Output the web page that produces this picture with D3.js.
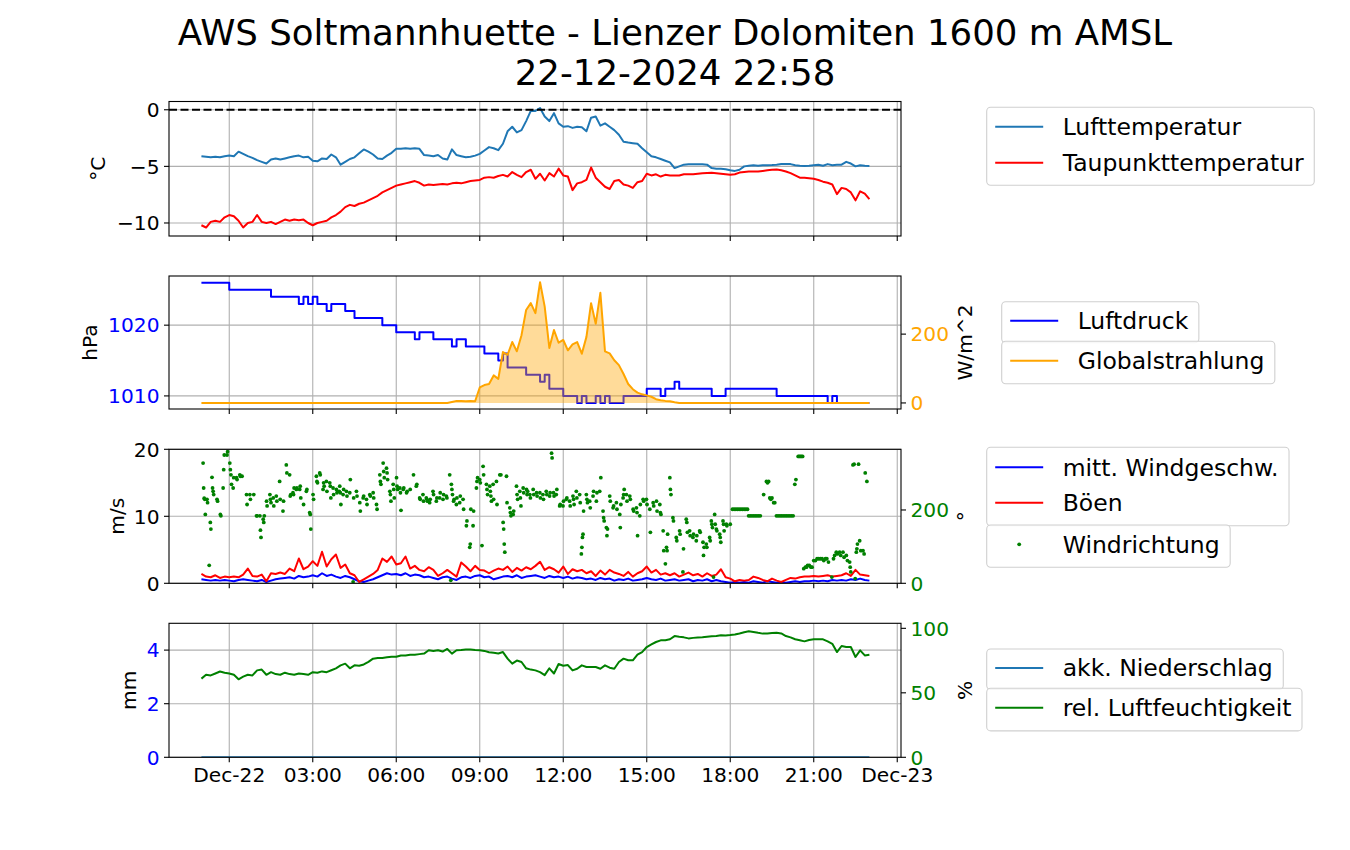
<!DOCTYPE html>
<html><head><meta charset="utf-8">
<script src="https://cdn.jsdelivr.net/npm/d3@7"></script>
<style>
body{margin:0;background:#fff;}
svg{font-family:"DejaVu Sans",sans-serif;}
</style></head><body>
<svg id="chart" width="1350" height="850"></svg>
<script>
// ---------------- DATA ----------------
const titleLines = ["AWS Soltmannhuette - Lienzer Dolomiten 1600 m AMSL", "22-12-2024 22:58"];
// 10-minute readings, first at 21-12-2024 23:00 (hour -1 relative to 22-12 00:00)
const startHour = -1;
const stepHours = 1 / 6;

const airTemp = [
 -4.1,-4.15,-4.2,-4.15,-4.2,-4.1,
 -4.05,-4.1,-3.7,-3.9,-4.1,-4.25,
 -4.45,-4.6,-4.75,-4.4,-4.3,-4.4,
 -4.3,-4.2,-4.1,-4.05,-4.2,-4.15,
 -4.5,-4.55,-4.3,-4.35,-3.95,-4.2,
 -4.85,-4.6,-4.35,-4.2,-3.85,-3.5,
 -3.7,-3.95,-4.3,-4.35,-4.05,-3.8,
 -3.45,-3.45,-3.4,-3.45,-3.4,-3.45,
 -4.0,-4.05,-4.1,-4.0,-4.3,-4.4,
 -3.5,-4.0,-4.1,-4.2,-4.15,-4.05,
 -3.9,-3.6,-3.3,-3.4,-3.57,-3.0,
 -1.9,-1.5,-2.0,-1.8,-1.0,-0.1,
 -0.1,0.15,-0.6,-1.0,-0.3,-1.2,
 -1.5,-1.45,-1.6,-1.5,-1.55,-1.9,
 -0.7,-0.6,-1.4,-1.2,-1.5,-1.8,
 -2.2,-2.83,-2.9,-2.95,-3.0,-3.4,
 -3.75,-4.1,-4.2,-4.35,-4.5,-4.65,
 -5.15,-5.0,-4.85,-4.82,-4.82,-4.82,
 -4.82,-4.85,-5.15,-5.2,-5.2,-5.25,
 -5.35,-5.4,-5.3,-5.0,-4.95,-4.9,
 -4.95,-4.9,-4.9,-4.88,-4.85,-4.8,
 -4.78,-4.8,-4.9,-4.95,-4.97,-4.95,
 -4.9,-4.85,-4.95,-4.8,-4.9,-4.85,
 -4.85,-4.6,-4.75,-5.0,-4.9,-4.95,
 -4.97
];
const dewPoint = [
 -10.2,-10.4,-9.9,-9.8,-9.9,-9.5,
 -9.3,-9.4,-9.8,-10.4,-10.0,-9.9,
 -9.3,-9.9,-10.0,-9.9,-10.1,-9.9,
 -9.7,-9.8,-9.7,-9.75,-9.7,-10.0,
 -10.2,-10.0,-9.9,-9.8,-9.5,-9.3,
 -9.0,-8.6,-8.4,-8.5,-8.3,-8.2,
 -8.0,-7.8,-7.6,-7.3,-7.1,-6.9,
 -6.7,-6.6,-6.5,-6.4,-6.3,-6.45,
 -6.7,-6.6,-6.65,-6.6,-6.55,-6.6,
 -6.5,-6.45,-6.5,-6.4,-6.3,-6.25,
 -6.2,-6.0,-5.95,-6.0,-5.85,-5.75,
 -5.9,-5.5,-5.75,-5.95,-5.5,-5.3,
 -6.1,-5.65,-6.25,-5.6,-5.9,-5.2,
 -5.8,-5.9,-7.1,-6.5,-6.4,-6.2,
 -5.1,-6.0,-6.4,-6.8,-7.0,-6.3,
 -6.2,-6.6,-6.7,-6.9,-6.4,-6.3,
 -5.65,-5.8,-5.7,-5.9,-5.75,-5.8,
 -5.8,-5.8,-5.7,-5.7,-5.7,-5.65,
 -5.6,-5.58,-5.57,-5.6,-5.65,-5.7,
 -5.75,-5.7,-5.55,-5.5,-5.45,-5.45,
 -5.45,-5.4,-5.35,-5.3,-5.28,-5.35,
 -5.45,-5.6,-5.8,-6.0,-6.0,-6.05,
 -6.1,-6.2,-6.35,-6.45,-6.6,-7.45,
 -6.9,-7.0,-7.3,-8.0,-7.2,-7.4,
 -7.9
];
const pressure = [
 1026,1026,1026,1026,1026,1026,
 1025,1025,1025,1025,1025,1025,
 1025,1025,1025,1024,1024,1024,
 1024,1024,1024,1023,1024,1023,
 1024,1023,1023,1022,1023,1023,
 1023,1022,1022,1021,1021,1021,
 1021,1021,1021,1020,1020,1020,
 1019,1019,1019,1019,1018,1019,
 1019,1019,1018,1018,1018,1018,
 1017,1018,1018,1017,1017,1017,
 1017,1016,1016,1016,1015,1016,
 1014,1014,1014,1014,1013,1013,
 1013,1012,1013,1011,1011,1011,
 1010,1010,1010,1009,1010,1009,
 1009,1010,1009,1010,1009,1009,
 1009,1010,1010,1010,1010,1010,
 1011,1011,1011,1010,1011,1011,
 1012,1011,1011,1011,1011,1011,
 1011,1011,1010,1010,1010,1011,
 1011,1011,1011,1011,1011,1011,
 1011,1011,1011,1011,1010,1010,
 1010,1010,1010,1010,1010,1010,
 1010,1010,1010,1009,1010,1009,
 1009,1009,1009,1009,1009,1009,
 1009
];
const globalRadiation = [
 0,0,0,0,0,0, 0,0,0,0,0,0, 0,0,0,0,0,0, 0,0,0,0,0,0,
 0,0,0,0,0,0, 0,0,0,0,0,0, 0,0,0,0,0,0, 0,0,0,0,0,0,
 0,0,0,0,0,0,
 3,6,6,5,6,5,
 45,52,55,80,70,148,
 140,177,150,197,270,290,
 261,351,280,160,212,175,
 183,153,170,177,143,192,
 290,230,320,150,144,124,
 110,84,55,40,30,25,
 22,18,11,8,6,5,
 2,0,0,0,0,0,
 0,0,0,0,0,0, 0,0,0,0,0,0, 0,0,0,0,0,0,
 0,0,0,0,0,0, 0,0,0,0,0,0, 0,0,0,0,0,0,
 0
];
const windMean = [
 0.6,0.5,0.4,0.5,0.4,0.5,
 0.4,0.3,0.5,0.6,0.5,0.4,
 0.3,0.5,0.2,0.4,0.6,0.7,
 0.8,0.9,0.7,1.1,0.9,1.0,
 1.2,1.0,1.5,1.1,1.3,1.0,
 0.8,1.1,0.9,0.6,0.3,0.2,
 0.4,0.6,0.9,1.2,1.5,1.3,
 1.4,1.2,1.5,1.1,1.3,1.2,
 0.9,1.0,0.8,0.6,0.9,1.0,
 0.7,0.5,0.9,1.0,0.8,1.1,
 1.2,0.9,1.0,0.6,0.8,1.0,
 1.1,0.9,1.2,0.8,1.0,1.1,
 1.2,1.0,0.8,1.1,0.9,1.0,
 0.8,1.0,0.7,0.9,0.8,0.6,
 0.7,0.5,0.8,0.6,0.7,0.4,
 0.6,0.5,0.7,0.4,0.5,0.6,
 0.8,0.6,0.5,0.7,0.4,0.5,
 0.6,0.4,0.5,0.6,0.3,0.5,
 0.4,0.6,0.3,0.5,0.3,0.2,
 0.1,0.2,0.1,0.2,0.1,0.3,
 0.2,0.1,0.3,0.2,0.1,0.2,
 0.1,0.2,0.3,0.2,0.3,0.3,
 0.4,0.3,0.4,0.3,0.5,0.4,
 0.5,0.4,0.6,0.5,0.7,0.5,
 0.4
];
const windGust = [
 1.4,1.0,0.9,1.2,0.8,1.0,
 0.9,1.0,0.9,1.3,2.2,1.1,
 1.0,1.3,0.3,1.5,1.4,1.6,
 1.4,2.2,1.8,3.7,2.1,2.5,
 3.3,2.6,4.7,2.5,3.6,4.3,
 2.3,2.8,1.5,1.2,0.2,0.6,
 1.0,1.4,2.0,3.7,3.2,4.0,
 2.8,3.0,4.0,2.2,2.6,2.0,
 1.8,2.4,2.0,1.1,1.5,2.0,
 1.5,1.0,3.1,2.5,1.8,2.6,
 2.0,1.9,1.5,1.9,2.2,2.0,
 2.5,1.7,2.3,1.9,2.4,2.1,
 2.6,3.2,2.0,2.4,2.1,1.6,
 2.5,1.4,2.1,1.8,2.0,1.5,
 1.8,1.1,1.9,1.3,2.0,1.6,
 1.4,1.1,1.7,1.0,1.5,1.8,
 2.5,1.6,2.0,1.3,1.5,1.2,
 1.5,1.0,1.3,1.6,1.2,1.4,
 1.0,1.5,1.1,1.3,2.1,0.9,
 0.7,0.3,0.5,0.4,0.5,1.0,
 0.8,0.5,0.3,0.7,0.4,0.2,
 0.5,0.8,0.7,0.9,1.0,1.0,
 1.1,1.0,1.1,1.2,1.0,1.1,
 1.2,1.5,1.1,2.0,1.3,1.2,
 1.1
];
// wind direction readings: [hour relative to 22-12 00:00, degrees]
const windDirection = [
 [-0.94,328],[-0.92,260],[-0.90,232],[-0.88,229],[-0.86,188],[-0.80,229],[-0.78,220],[-0.72,49],
 [-0.68,166],[-0.66,148],[-0.62,289],[-0.60,260],[-0.58,251],[-0.56,242],[-0.44,229],[-0.42,224],
 [-0.32,188],[-0.30,184],[-0.22,260],[-0.20,310],[-0.18,350],[-0.08,350],[-0.06,359],
 [0.02,328],[0.04,310],[0.06,296],[0.08,270],[0.14,260],[0.16,288],[0.26,288],[0.28,283],
 [0.38,296],[0.40,292],[0.46,292],[0.62,242],[0.64,215],[0.74,242],[0.76,229],[0.88,242],
 [0.98,184],[1.00,184],[1.10,184],[1.12,145],[1.14,125],[1.22,175],[1.24,166],[1.26,184],
 [1.34,224],[1.36,211],[1.46,242],[1.48,229],[1.50,220],[1.58,233],[1.60,211],[1.69,238],[1.71,224],
 [1.81,278],[1.83,229],[1.93,197],[1.95,224],[2.05,323],[2.07,301],[2.17,296],[2.19,238],[2.21,242],
 [2.29,247],[2.31,242],[2.33,260],[2.41,256],[2.43,260],[2.53,256],[2.55,265],[2.57,233],[2.67,215],
 [2.77,251],[2.79,256],[2.89,193],[2.91,188],[2.93,148],[3.01,242],[3.03,229],[3.13,292],[3.15,278],[3.17,274],
 [3.25,301],[3.27,296],[3.37,256],[3.39,274],[3.41,265],[3.49,278],[3.51,251],[3.61,274],[3.63,265],[3.65,233],
 [3.73,260],[3.75,242],[3.85,256],[3.87,247],[3.95,251],[3.97,265],[3.99,247],[4.01,215],[4.09,242],[4.11,256],
 [4.21,251],[4.23,238],[4.33,247],[4.35,283],[4.45,4],[4.47,233],[4.57,251],[4.59,238],[4.69,220],[4.71,197],
 [4.81,233],[4.83,238],[4.93,229],[4.95,215],[5.05,242],[5.07,238],[5.17,247],[5.19,233],[5.29,215],[5.31,202],
 [5.41,296],[5.43,278],[5.45,270],[5.53,328],[5.55,305],[5.57,288],[5.65,314],[5.67,301],[5.69,283],
 [5.77,251],[5.79,242],[5.81,224],[5.89,270],[5.91,256],[5.93,233],[6.01,288],[6.03,265],[6.05,256],
 [6.13,260],[6.15,247],[6.17,199],[6.25,256],[6.27,260],[6.37,247],[6.39,251],[6.50,256],[6.62,296],
 [6.72,265],[6.74,270],[6.84,233],[6.86,229],[6.96,242],[6.98,224],[7.08,233],[7.10,229],[7.12,224],
 [7.20,220],[7.22,229],[7.32,251],[7.34,242],[7.44,224],[7.46,233],[7.56,233],[7.58,247],[7.68,229],[7.70,242],
 [7.80,238],[7.82,233],[7.92,296],[7.96,8],[7.98,270],[8.00,256],[8.02,242],[8.06,224],[8.08,229],
 [8.16,215],[8.18,233],[8.28,220],[8.30,238],[8.40,229],[8.42,202],[8.52,157],[8.54,170],
 [8.64,98],[8.66,107],[8.68,202],[8.76,157],[8.78,197],[8.88,260],[8.90,278],[8.92,288],[9.00,283],[9.02,274],
 [9.08,103],[9.12,319],[9.14,296],[9.24,270],[9.26,256],[9.28,242],[9.36,265],[9.38,251],[9.40,238],[9.42,224],
 [9.48,270],[9.50,229],[9.60,278],[9.62,215],[9.72,296],[9.76,296],[9.84,166],[9.86,148],[9.88,107],[9.90,85],
 [9.96,292],[9.98,220],[10.08,206],[10.10,193],[10.12,184],[10.20,188],[10.22,197],[10.32,265],[10.34,242],[10.36,229],
 [10.44,251],[10.46,233],[10.48,211],[10.56,260],[10.58,247],[10.68,256],[10.70,242],[10.72,251],[10.80,242],[10.82,233],
 [10.92,256],[10.94,242],[11.04,247],[11.06,238],[11.16,247],[11.18,233],[11.27,242],[11.29,229],[11.39,251],[11.41,242],
 [11.51,238],[11.53,247],[11.58,355],[11.60,342],[11.65,247],[11.67,238],[11.75,242],[11.77,256],[11.87,211],[11.89,215],
 [11.99,211],[12.01,224],[12.11,229],[12.13,233],[12.23,224],[12.25,211],[12.35,238],[12.37,229],[12.39,215],
 [12.47,251],[12.49,233],[12.59,242],[12.61,220],[12.65,80],[12.67,98],[12.69,125],[12.71,134],[12.73,197],
 [12.83,242],[12.85,229],[12.87,220],[12.95,224],[12.97,206],[13.07,238],[13.09,251],[13.19,224],[13.21,247],
 [13.31,251],[13.35,288],[13.43,197],[13.45,179],[13.47,170],[13.55,152],[13.57,130],[13.59,148],[13.67,238],[13.69,224],
 [13.79,206],[13.81,211],[13.91,220],[13.93,202],[14.03,188],[14.05,152],[14.07,215],[14.15,233],[14.17,242],[14.19,256],
 [14.27,242],[14.29,224],[14.39,238],[14.41,229],[14.51,202],[14.53,197],[14.63,206],[14.65,193],[14.67,130],
 [14.75,184],[14.77,215],[14.87,229],[14.89,224],[14.99,229],[15.01,215],[15.11,202],[15.13,139],[15.23,220],[15.25,211],
 [15.35,224],[15.37,197],[15.47,215],[15.49,193],[15.51,188],[15.59,143],[15.61,89],[15.67,53],[15.71,98],[15.73,89],[15.75,134],
 [15.83,288],[15.85,256],[15.87,242],[15.94,179],[15.96,170],[16.06,125],[16.08,116],[16.18,143],[16.20,134],
 [16.30,31],[16.32,94],[16.42,175],[16.44,166],[16.46,139],[16.54,143],[16.56,130],[16.66,125],[16.68,134],
 [16.78,116],[16.80,130],[16.90,143],[16.92,139],[17.02,112],[17.04,76],[17.06,98],[17.14,107],[17.16,98],
 [17.26,125],[17.28,116],[17.32,170],[17.34,161],[17.36,152],[17.40,17],[17.44,188],[17.46,161],[17.50,148],[17.52,143],
 [17.62,134],[17.64,125],[17.66,112],[17.74,170],[17.76,161],[17.78,143],[17.86,161],[17.88,157],[18.00,161],
 [18.08,202],[18.14,202],[18.20,202],[18.26,202],[18.32,202],[18.38,202],[18.44,202],[18.50,202],[18.56,202],[18.62,202],
 [18.66,184],[18.72,184],[18.78,184],[18.84,184],[18.90,184],[18.96,184],[19.02,184],[19.08,184],
 [19.20,242],[19.30,278],[19.34,274],[19.38,278],[19.42,233],[19.46,229],[19.50,233],[19.56,220],[19.60,220],
 [19.66,184],[19.72,184],[19.78,184],[19.84,184],[19.90,184],[19.96,184],[20.02,184],[20.08,184],[20.14,184],[20.20,184],[20.26,184],
 [20.32,270],[20.36,283],[20.44,346],[20.48,346],[20.52,346],[20.56,346],[20.60,346],
 [20.64,40],[20.70,44],[20.74,44],[20.78,49],[20.84,49],[20.90,44],[20.94,44],
 [21.00,62],[21.06,62],[21.12,67],[21.18,67],[21.24,67],[21.30,67],[21.36,62],[21.42,67],[21.47,67],
 [21.53,58],[21.65,17],[21.71,67],[21.75,76],[21.81,85],[21.85,80],[21.93,85],[21.97,76],[22.05,85],[22.09,71],
 [22.17,76],[22.21,62],[22.29,58],[22.31,44],[22.33,31],[22.41,323],[22.45,325],[22.49,13],
 [22.53,85],[22.55,94],[22.57,107],[22.61,325],[22.65,116],[22.69,89],[22.77,89],[22.81,80],[22.85,301],[22.91,278]
];
const precipAccum = [
 0,0,0,0,0,0,0,0,0,0,0,0, 0,0,0,0,0,0,0,0,0,0,0,0,
 0,0,0,0,0,0,0,0,0,0,0,0, 0,0,0,0,0,0,0,0,0,0,0,0,
 0,0,0,0,0,0,0,0,0,0,0,0, 0,0,0,0,0,0,0,0,0,0,0,0,
 0,0,0,0,0,0,0,0,0,0,0,0, 0,0,0,0,0,0,0,0,0,0,0,0,
 0,0,0,0,0,0,0,0,0,0,0,0, 0,0,0,0,0,0,0,0,0,0,0,0,
 0,0,0,0,0,0,0,0,0,0,0,0, 0,0,0,0,0,0,0,0,0,0,0,0,
 0
];
const humidity = [
 61,64,63.5,65,66.5,65.5,
 65,64,60.5,62.5,64,63.5,
 67.4,68,64,66,64.5,64,
 65.6,64.5,64,65,64.5,64,
 66,65.5,66.6,66,67.5,69,
 71.3,72.6,69,71.3,71,72,
 74,76.5,77,77,77.5,78,
 78,79,79,79.5,79.6,80,
 80.4,83,82.5,83,82,84,
 80.4,83,83.2,83.5,83.5,83.2,
 83,82.5,81.5,81,80.5,81.6,
 76.5,72.6,75,73.9,69,68,
 67.4,66,63.7,69,65,72.3,
 71,71.5,67.4,68.7,71.3,70,
 70,70,68.7,71.3,69.5,68.7,
 73.9,76.5,75.2,75.2,79.6,81.6,
 85.5,87.5,89.4,90.7,90.7,91.5,
 94,93.4,93,92.2,92.6,92.8,
 93,93.4,93.8,94,94.6,94.5,
 94.8,95.2,96,97,97.7,97.2,
 96.5,95.9,96,96.3,96.6,96,
 94,93,91.5,90.7,89.9,91,
 91.5,91.5,91.5,89.9,88,81.6,
 86.3,85.5,85.5,77.8,82.9,79,
 79.6
];
const tempTicks = [-10, -5, 0];
const pressureTicks = [1010, 1020];
const radiationTicks = [0, 200];
const windTicks = [0, 10, 20];
const directionTicks = [0, 200];
const precipTicks = [0, 2, 4];
const humidityTicks = [0, 50, 100];

// ---------------- LAYOUT ----------------
const BASE = Date.UTC(2024, 11, 22);
const hoursToDate = h => new Date(BASE + h * 3600000);
const times = airTemp.map((_, i) => hoursToDate(startHour + i * stepHours));

const svg = d3.select("#chart");
const X0 = 169, X1 = 901;
const TICK_FONT = 20.2, LEG_FONT = 23.5, TITLE_FONT = 35.6;
const x = d3.scaleUtc().domain([hoursToDate(-2.165), hoursToDate(24.135)]).range([X0, X1]);
const xTicks = d3.utcHour.every(3).range(hoursToDate(-2.165), hoursToDate(24.2));
const fmtTick = d => d.getUTCHours() === 0 ? d3.utcFormat("%b-%d")(d) : d3.utcFormat("%H:%M")(d);
const fmtNum = v => (v < 0 ? "\u2212" + Math.abs(v) : String(v));

const panels = [
  {top: 101.5, bottom: 236},
  {top: 276, bottom: 409},
  {top: 449.3, bottom: 583.3},
  {top: 623.3, bottom: 757.3}
];

svg.append("rect").attr("width", 1350).attr("height", 850).attr("fill", "#fff");

// title
svg.append("text").attr("x", 675).attr("y", 45).attr("text-anchor", "middle")
  .attr("font-size", TITLE_FONT).text(titleLines[0]);
svg.append("text").attr("x", 675).attr("y", 85).attr("text-anchor", "middle")
  .attr("font-size", TITLE_FONT).text(titleLines[1]);

function makePanel(i, cfg) {
  const p = panels[i];
  const g = svg.append("g");
  const yL = d3.scaleLinear().domain(cfg.leftDomain).range([p.bottom, p.top]);
  const yR = cfg.rightDomain ? d3.scaleLinear().domain(cfg.rightDomain).range([p.bottom, p.top]) : null;
  const clipId = "clip" + i;
  svg.append("clipPath").attr("id", clipId).append("rect")
    .attr("x", X0).attr("y", p.top).attr("width", X1 - X0).attr("height", p.bottom - p.top);
  // grid
  const grid = g.append("g").attr("stroke", "#b0b0b0").attr("stroke-width", 1.1);
  xTicks.forEach(t => grid.append("line").attr("x1", x(t)).attr("x2", x(t)).attr("y1", p.top).attr("y2", p.bottom));
  cfg.leftTicks.forEach(v => grid.append("line").attr("x1", X0).attr("x2", X1).attr("y1", yL(v)).attr("y2", yL(v)));
  const plot = g.append("g").attr("clip-path", `url(#${clipId})`);
  // ticks
  const ax = g.append("g").attr("stroke", "#000").attr("stroke-width", 1.1);
  xTicks.forEach(t => ax.append("line").attr("x1", x(t)).attr("x2", x(t)).attr("y1", p.bottom).attr("y2", p.bottom + 5));
  cfg.leftTicks.forEach(v => ax.append("line").attr("x1", X0 - 5).attr("x2", X0).attr("y1", yL(v)).attr("y2", yL(v)));
  if (yR) cfg.rightTicks.forEach(v => ax.append("line").attr("x1", X1).attr("x2", X1 + 5).attr("y1", yR(v)).attr("y2", yR(v)));
  cfg.leftTicks.forEach(v => g.append("text").attr("x", X0 - 9.5).attr("y", yL(v) + 7.3)
    .attr("text-anchor", "end").attr("font-size", TICK_FONT).attr("fill", cfg.leftColor).text(fmtNum(v)));
  if (yR) cfg.rightTicks.forEach(v => g.append("text").attr("x", X1 + 9.5).attr("y", yR(v) + 7.3)
    .attr("text-anchor", "start").attr("font-size", TICK_FONT).attr("fill", cfg.rightColor).text(fmtNum(v)));
  if (cfg.xLabels) xTicks.forEach(t => g.append("text").attr("x", x(t)).attr("y", 782)
    .attr("text-anchor", "middle").attr("font-size", TICK_FONT).text(fmtTick(t)));
  // axis labels
  const cy = (p.top + p.bottom) / 2;
  g.append("text").attr("transform", `translate(${cfg.leftLabelX},${cy}) rotate(-90)`)
    .attr("text-anchor", "middle").attr("font-size", TICK_FONT).text(cfg.leftLabel);
  if (cfg.rightLabel) g.append("text").attr("transform", `translate(971.5,${cy}) rotate(-90)`)
    .attr("text-anchor", "middle").attr("font-size", TICK_FONT).text(cfg.rightLabel);
  return {g, plot, yL, yR, p};
}

function drawLine(layer, values, y, color, width, curve) {
  const line = d3.line().x((d, i) => x(times[i])).y(d => y(d)).curve(curve || d3.curveLinear);
  layer.append("path").datum(values).attr("d", line).attr("fill", "none")
    .attr("stroke", color).attr("stroke-width", width || 2).attr("stroke-linejoin", "round");
}
function frame(P) {
  P.g.append("rect").attr("x", X0).attr("y", P.p.top).attr("width", X1 - X0).attr("height", P.p.bottom - P.p.top)
    .attr("fill", "none").attr("stroke", "#000").attr("stroke-width", 1.1);
}

// Panel 1: temperatures
const P1 = makePanel(0, {leftDomain: [-11.15, 0.73], leftTicks: tempTicks, leftColor: "#000",
  leftLabel: "°C", leftLabelX: 105.4});
drawLine(P1.plot, airTemp, P1.yL, "#1f77b4");
drawLine(P1.plot, dewPoint, P1.yL, "#ff0000");
P1.plot.append("line").attr("x1", X0).attr("x2", X1).attr("y1", P1.yL(0)).attr("y2", P1.yL(0))
  .attr("stroke", "#000").attr("stroke-width", 2.1).attr("stroke-dasharray", "8,3.5");
frame(P1);

// Panel 2: pressure + radiation
const P2 = makePanel(1, {leftDomain: [1008.15, 1026.95], leftTicks: pressureTicks, leftColor: "#0000ff",
  rightDomain: [-17.6, 368.9], rightTicks: radiationTicks, rightColor: "#ffa500",
  leftLabel: "hPa", leftLabelX: 97.2, rightLabel: "W/m^2"});
drawLine(P2.plot, pressure, P2.yL, "#0000ff", 2, d3.curveStepAfter);
const area = d3.area().x((d, i) => x(times[i])).y0(P2.yR(0)).y1(d => P2.yR(d));
P2.plot.append("path").datum(globalRadiation).attr("d", area).attr("fill", "#ffa500").attr("fill-opacity", 0.4);
drawLine(P2.plot, globalRadiation, P2.yR, "#ffa500");
frame(P2);

// Panel 3: wind
const P3 = makePanel(2, {leftDomain: [0, 20], leftTicks: windTicks, leftColor: "#000",
  rightDomain: [0, 365.5], rightTicks: directionTicks, rightColor: "#008000",
  leftLabel: "m/s", leftLabelX: 123.9, rightLabel: "°"});
drawLine(P3.plot, windMean, P3.yL, "#0000ff");
drawLine(P3.plot, windGust, P3.yL, "#ff0000");
P3.plot.selectAll("circle").data(windDirection).join("circle")
  .attr("cx", d => x(hoursToDate(d[0]))).attr("cy", d => P3.yR(d[1])).attr("r", 1.9).attr("fill", "#008000");
frame(P3);

// Panel 4: precipitation + humidity
const P4 = makePanel(3, {leftDomain: [0, 5], leftTicks: precipTicks, leftColor: "#0000ff",
  rightDomain: [0, 103.9], rightTicks: humidityTicks, rightColor: "#008000",
  leftLabel: "mm", leftLabelX: 136, rightLabel: "%", xLabels: true});
drawLine(P4.plot, precipAccum, P4.yL, "#1f77b4");
drawLine(P4.plot, humidity, P4.yR, "#008000");
frame(P4);

// ---------------- LEGENDS ----------------
function legend(x0, y0, h, rows) {
  const g = svg.append("g");
  const rect = g.append("rect").attr("x", x0).attr("y", y0).attr("height", h).attr("rx", 4)
    .attr("fill", "#fff").attr("fill-opacity", 0.8).attr("stroke", "#d0d0d0").attr("stroke-width", 1.1);
  let maxW = 0;
  rows.forEach(r => {
    if (r.dot) g.append("circle").attr("cx", x0 + 32.5).attr("cy", r.y).attr("r", 1.9).attr("fill", r.color);
    else g.append("line").attr("x1", x0 + 8.5).attr("x2", x0 + 56.5).attr("y1", r.y).attr("y2", r.y)
      .attr("stroke", r.color).attr("stroke-width", 2);
    const t = g.append("text").attr("x", x0 + 76).attr("y", r.y + 8.4).attr("font-size", LEG_FONT).text(r.label);
    maxW = Math.max(maxW, t.node().getComputedTextLength());
  });
  rect.attr("width", 76 + maxW + 10.5);
}
legend(986.7, 107.3, 78, [{label: "Lufttemperatur", color: "#1f77b4", y: 126.7}, {label: "Taupunkttemperatur", color: "#ff0000", y: 162.7}]);
legend(1001.7, 301.7, 41, [{label: "Luftdruck", color: "#0000ff", y: 320.7}]);
legend(1001.7, 341.3, 42.5, [{label: "Globalstrahlung", color: "#ffa500", y: 360.7}]);
legend(986.7, 447.3, 78.5, [{label: "mitt. Windgeschw.", color: "#0000ff", y: 467.3}, {label: "Böen", color: "#ff0000", y: 502.7}]);
legend(986.7, 525, 42.3, [{label: "Windrichtung", color: "#008000", y: 544.3, dot: true}]);
legend(986.7, 649, 40.5, [{label: "akk. Niederschlag", color: "#1f77b4", y: 668}]);
legend(986.7, 688.3, 42.6, [{label: "rel. Luftfeuchtigkeit", color: "#008000", y: 707.7}]);
</script>
</body></html>
